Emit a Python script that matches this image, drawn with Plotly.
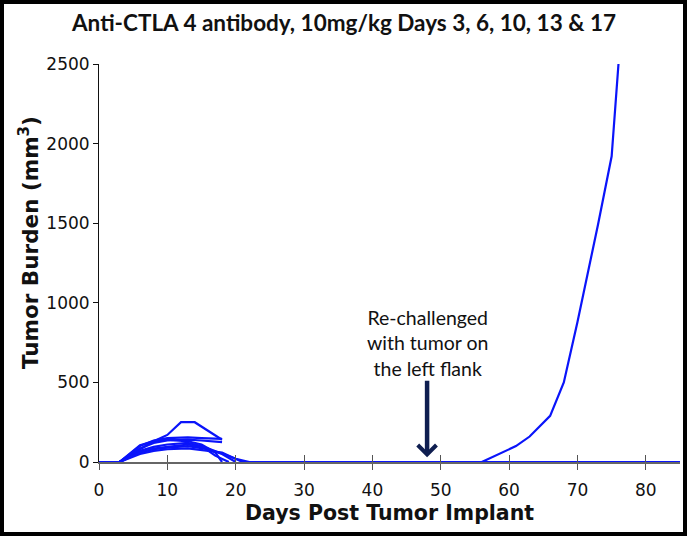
import plotly.graph_objects as go

# ---------------- data ----------------
title_text = "Anti-CTLA 4 antibody, 10mg/kg Days 3, 6, 10, 13 & 17"

mouse_1_days = [0, 3, 6, 8, 10, 12, 14, 17, 18]
mouse_1_vol = [0, 0, 80, 130, 170, 250, 250, 170, 140]

mouse_2_days = [0, 3, 6, 8, 10, 13, 15, 18]
mouse_2_vol = [0, 0, 100, 135, 150, 155, 150, 145]

mouse_3_days = [0, 3, 6, 8, 10, 13, 15, 18]
mouse_3_vol = [0, 0, 85, 120, 135, 140, 135, 125]

mouse_4_days = [0, 3, 6, 8, 10, 13, 15, 17, 18]
mouse_4_vol = [0, 0, 105, 130, 140, 130, 110, 60, 0]

mouse_5_days = [0, 3, 6, 8, 10, 13, 15, 17, 19]
mouse_5_vol = [0, 0, 70, 95, 110, 120, 100, 40, 0]

mouse_6_days = [0, 3, 6, 8, 10, 13, 16, 18, 20]
mouse_6_vol = [0, 0, 60, 80, 90, 100, 80, 50, 0]

mouse_7_days = [0, 3, 6, 8, 10, 13, 16, 18, 19, 21, 85]
mouse_7_vol = [0, 0, 50, 70, 80, 85, 70, 60, 40, 0, 0]

mouse_8_days = [0, 3, 6, 8, 10, 13, 16, 18, 20, 22, 56, 61, 63, 66, 68, 70, 73, 75, 76]
mouse_8_vol = [0, 0, 60, 85, 95, 110, 85, 50, 20, 0, 0, 100, 160, 290, 500, 880, 1490, 1920, 2500]

mice = [
    (mouse_1_days, mouse_1_vol),
    (mouse_2_days, mouse_2_vol),
    (mouse_3_days, mouse_3_vol),
    (mouse_4_days, mouse_4_vol),
    (mouse_5_days, mouse_5_vol),
    (mouse_6_days, mouse_6_vol),
    (mouse_7_days, mouse_7_vol),
    (mouse_8_days, mouse_8_vol),
]

x_ticks = [0, 10, 20, 30, 40, 50, 60, 70, 80]
y_ticks = [0, 500, 1000, 1500, 2000, 2500]
x_range = [0, 85]
y_range = [0, 2500]

rechallenge_day = 48
arrow_tail_vol = 520
arrow_head_vol = 30
rechallenge_text = "Re-challenged<br>with tumor on<br>the left flank"
rechallenge_text_vol = 750

x_title = "Days Post Tumor Implant"
y_title = "Tumor Burden (mm<sup>3</sup>)"

# ---------------- figure ----------------
W, H = 687, 536
L, R, T, B = 99, 7, 64, 74
pw, ph = W - L - R, H - T - B

LINE = "rgb(10,20,250)"
TICKFONT = dict(family="DejaVu Sans", size=17, color="#111111")

fig = go.Figure()
for d, v in mice:
    fig.add_trace(go.Scatter(x=d, y=v, mode="lines",
                             line=dict(color=LINE, width=2.2),
                             showlegend=False, hoverinfo="skip"))
# invisible trace to activate overlay axis (for crossing ticks)
fig.add_trace(go.Scatter(x=x_range, y=[None, None], xaxis="x2", mode="lines",
                         showlegend=False, hoverinfo="skip"))

fig.update_layout(
    width=W, height=H,
    margin=dict(l=L, r=R, t=T, b=B),
    paper_bgcolor="white", plot_bgcolor="white",
    xaxis=dict(range=x_range, tickvals=x_ticks, ticks="outside", ticklen=6,
               tickcolor="#555555", tickwidth=1.2,
               showline=True, linecolor="#666666", linewidth=1.5,
               showgrid=False, zeroline=False, tickfont=TICKFONT,
               ticklabelstandoff=6),
    xaxis2=dict(range=x_range, matches="x", overlaying="x", anchor="y",
                tickvals=x_ticks, ticks="inside", ticklen=7,
                tickcolor="#555555", tickwidth=1.2, showticklabels=False,
                showline=False, showgrid=False, zeroline=False),
    yaxis=dict(range=y_range, tickvals=y_ticks, ticks="outside", ticklen=5,
               tickcolor="#111111", tickwidth=1,
               showline=True, linecolor="#111111", linewidth=1,
               showgrid=False, zeroline=False, tickfont=TICKFONT),
)

# title
fig.add_annotation(text=title_text, xref="paper", yref="paper",
                   x=(W / 2 - 0 - L) / pw, y=1 + (T - 22) / ph,
                   xanchor="center", yanchor="middle", showarrow=False,
                   font=dict(family="Lato", size=22.5, color="#111111", weight="bold"))

# axis titles
fig.add_annotation(text=x_title, xref="paper", yref="paper",
                   x=(389 - L) / pw, y=-(513 - (T + ph)) / ph,
                   xanchor="center", yanchor="middle", showarrow=False,
                   font=dict(family="DejaVu Sans", size=20.5, color="#111111", weight="bold"))
fig.add_annotation(text=y_title, xref="paper", yref="paper",
                   x=-(L - 29) / pw, y=1 - (243 - T) / ph, textangle=-90,
                   xanchor="center", yanchor="middle", showarrow=False,
                   font=dict(family="DejaVu Sans", size=21.5, color="#111111", weight="bold"))

# rechallenge note and arrow
fig.add_annotation(text=rechallenge_text, x=rechallenge_day, y=rechallenge_text_vol,
                   xref="x", yref="y", showarrow=False, xanchor="center", yanchor="middle",
                   font=dict(family="Lato", size=19.5, color="#111111"))
fig.add_annotation(x=rechallenge_day, y=arrow_head_vol, ax=rechallenge_day, ay=arrow_tail_vol,
                   xref="x", yref="y", axref="x", ayref="y", text="", showarrow=True,
                   arrowhead=4, arrowsize=0.8, arrowwidth=4.5, arrowcolor="rgb(15,30,80)")

# black frame around the whole picture
fig.add_shape(type="rect", xref="paper", yref="paper",
              x0=-(L - 2) / pw, x1=1 + (R - 2) / pw,
              y0=-(B - 2) / ph, y1=1 + (T - 2) / ph,
              line=dict(color="black", width=4), fillcolor="rgba(0,0,0,0)", layer="above")

fig.write_html("out.html", config={"displayModeBar": False},
               post_script="document.body.style.margin='0';document.body.style.overflow='hidden';")
